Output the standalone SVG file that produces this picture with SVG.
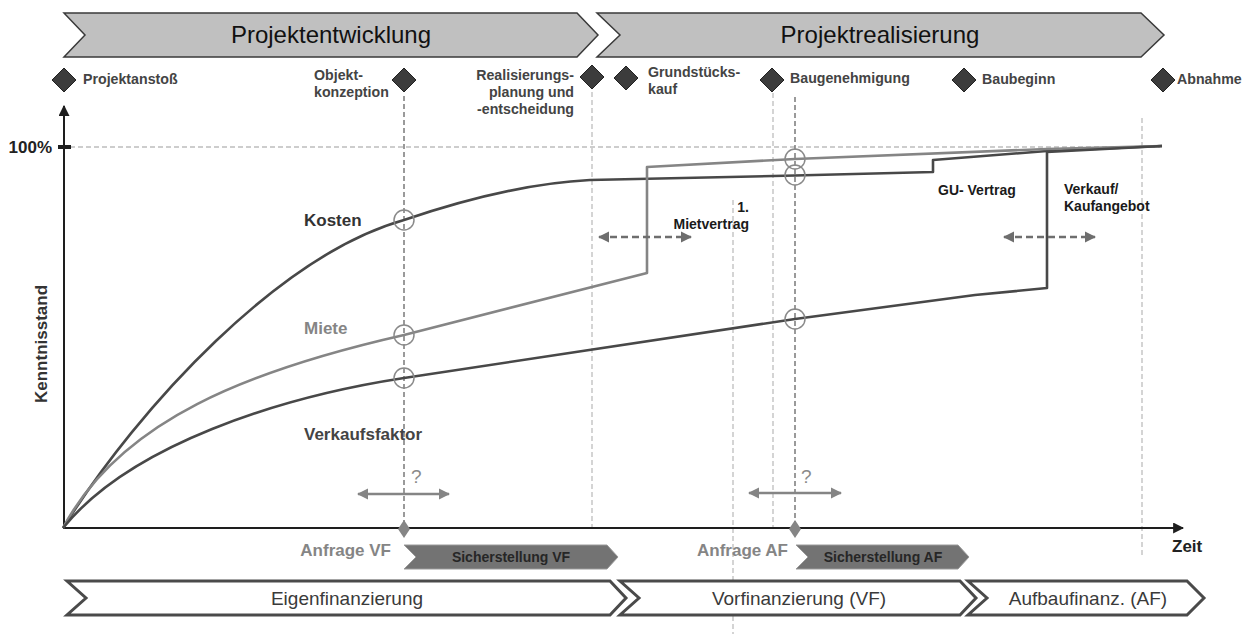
<svg xmlns="http://www.w3.org/2000/svg" width="1252" height="634" viewBox="0 0 1252 634">
<defs>
<marker id="ahd" viewBox="0 0 10 10" refX="9" refY="5" markerWidth="4.4" markerHeight="4.4" orient="auto-start-reverse"><path d="M0,0 L10,5 L0,10 z" fill="#6e6e6e"/></marker>
<marker id="ahg" viewBox="0 0 10 10" refX="9" refY="5" markerWidth="4.4" markerHeight="4.4" orient="auto-start-reverse"><path d="M0,0 L10,5 L0,10 z" fill="#858585"/></marker>
<marker id="aha" viewBox="0 0 10 10" refX="9" refY="5" markerWidth="5.5" markerHeight="5.5" orient="auto"><path d="M0,0 L10,5 L0,10 z" fill="#1e1e1e"/></marker>
</defs>
<style>
text{font-family:"Liberation Sans",Arial,sans-serif}
.phase{fill:#c0c0c0;stroke:#3a3a3a;stroke-width:1.5}
.phaset{font-size:24px;fill:#111;text-anchor:middle}
.dia{fill:#3c3c3c;stroke:#222;stroke-width:1}
.ms{font-size:14.2px;font-weight:bold;fill:#444}
.vl{stroke:#bdbdbd;stroke-width:1.3;stroke-dasharray:5,3;fill:none}
.vd{stroke:#7a7a7a;stroke-width:1.5;stroke-dasharray:5,3;fill:none}
.axis{stroke:#1e1e1e;stroke-width:2;fill:none}
.dk{stroke:#484848;stroke-width:2.6;fill:none;stroke-linejoin:round}
.lt{stroke:#858585;stroke-width:2.6;fill:none;stroke-linejoin:round}
.circ{fill:none;stroke:#8a8a8a;stroke-width:1.5}
.lbl{font-size:17px;font-weight:bold}
.ann{font-size:14px;font-weight:bold;fill:#1a1a1a}
.darr{stroke:#6e6e6e;stroke-width:2.6;stroke-dasharray:7,4;fill:none}
.garr{stroke:#858585;stroke-width:2.6;fill:none}
.q{font-size:19px;fill:#8a8a8a}
.anf{font-size:17px;font-weight:bold;fill:#858585;text-anchor:end}
.sich{fill:#737373;stroke:#9a9a9a;stroke-width:1}
.sicht{font-size:14px;font-weight:bold;fill:#262626;text-anchor:middle}
.fin{fill:#fff;stroke:#4a4a4a;stroke-width:3;stroke-linejoin:miter}
.fint{font-size:19px;fill:#3a3a3a;text-anchor:middle}
</style>

<g id="phase-projektentwicklung">
<polygon class="phase" points="64,13 577,13 598,35 577,57 64,57 85,35"/>
<text class="phaset" x="331" y="43">Projektentwicklung</text>
</g>
<g id="phase-projektrealisierung">
<polygon class="phase" points="597,13 1141,13 1164,35 1141,57 597,57 620,35"/>
<text class="phaset" x="880" y="43">Projektrealisierung</text>
</g>

<g id="guides">
<line class="vl" x1="70" y1="147" x2="1160" y2="147"/>
<line class="vd" x1="404" y1="96" x2="404" y2="528"/>
<line class="vl" x1="592" y1="92" x2="592" y2="528"/>
<line class="vl" x1="733" y1="200" x2="733" y2="634"/>
<line class="vl" x1="773" y1="93" x2="773" y2="528"/>
<line class="vd" x1="795" y1="97" x2="795" y2="528"/>
<line class="vl" x1="1142" y1="118" x2="1142" y2="556"/>
</g>

<g id="ms-projektanstoss">
<polygon class="dia" points="64,68 76,80 64,92 52,80"/>
<text class="ms" x="83" y="84">Projektanstoß</text>
</g>
<g id="ms-objektkonzeption">
<polygon class="dia" points="404,68 416,80 404,92 392,80"/>
<text class="ms" x="314" y="80">Objekt-</text>
<text class="ms" x="314" y="97">konzeption</text>
</g>
<g id="ms-realisierung">
<polygon class="dia" points="592,65 604,77 592,89 580,77"/>
<text class="ms" text-anchor="end" x="574" y="80">Realisierungs-</text>
<text class="ms" text-anchor="end" x="574" y="97">planung und</text>
<text class="ms" text-anchor="end" x="574" y="114">-entscheidung</text>
</g>
<g id="ms-grundstueckskauf">
<polygon class="dia" points="626,66 638,78 626,90 614,78"/>
<text class="ms" x="648" y="77">Grundstücks-</text>
<text class="ms" x="648" y="94">kauf</text>
</g>
<g id="ms-baugenehmigung">
<polygon class="dia" points="772,68 784,80 772,92 760,80"/>
<text class="ms" x="790" y="83">Baugenehmigung</text>
</g>
<g id="ms-baubeginn">
<polygon class="dia" points="964,68 976,80 964,92 952,80"/>
<text class="ms" x="982" y="84">Baubeginn</text>
</g>
<g id="ms-abnahme">
<polygon class="dia" points="1163,68 1175,80 1163,92 1151,80"/>
<text class="ms" x="1177" y="84">Abnahme</text>
</g>

<g id="axes">
<line class="axis" x1="64" y1="528" x2="64" y2="106" marker-end="url(#aha)"/>
<line class="axis" x1="63" y1="528" x2="1183" y2="528" marker-end="url(#aha)"/>
<line x1="58" y1="147" x2="71" y2="147" stroke="#1e1e1e" stroke-width="4"/>
<text x="52" y="153" font-size="17" font-weight="bold" fill="#222" text-anchor="end">100%</text>
<text x="1172" y="552" font-size="17" font-weight="bold" fill="#222">Zeit</text>
<text transform="translate(47,344) rotate(-90)" font-size="17" font-weight="bold" fill="#333" text-anchor="middle">Kenntnisstand</text>
</g>

<g id="curves">
<path id="curve-kosten" class="dk" d="M63,528 C140,405 280,255 404,220 C460,201 530,183 590,180 L795,175.5 L933,172 L933,160 L1047,151 L1162,146"/>
<path id="curve-miete" class="lt" d="M63,528 C120,420 250,370 404,335 L647,273 L647,167 L795,159 L1047,149 L1162,146"/>
<path id="curve-verkaufsfaktor" class="dk" d="M63,528 C130,445 280,397 404,378 L795,319 L975,295 L1047,288 L1047,152 L1162,146"/>
<circle class="circ" cx="404" cy="220" r="10"/>
<circle class="circ" cx="404" cy="335" r="10"/>
<circle class="circ" cx="404" cy="378" r="10"/>
<circle class="circ" cx="795" cy="159" r="10"/>
<circle class="circ" cx="795" cy="175" r="10"/>
<circle class="circ" cx="795" cy="319" r="10"/>
<text class="lbl" x="304" y="226" fill="#333">Kosten</text>
<text class="lbl" x="304" y="334" fill="#858585">Miete</text>
<text class="lbl" x="304" y="440" fill="#444">Verkaufsfaktor</text>
</g>

<g id="connectors">
<line class="darr" x1="599" y1="237" x2="691" y2="237" marker-start="url(#ahd)" marker-end="url(#ahd)"/>
<line class="darr" x1="1004" y1="237" x2="1095" y2="237" marker-start="url(#ahd)" marker-end="url(#ahd)"/>
<line class="garr" x1="358" y1="494" x2="449" y2="494" marker-start="url(#ahg)" marker-end="url(#ahg)"/>
<line class="garr" x1="749" y1="493" x2="841" y2="493" marker-start="url(#ahg)" marker-end="url(#ahg)"/>
</g>

<g id="note-mietvertrag">
<text class="ann" x="749" y="212" text-anchor="end">1.</text>
<text class="ann" x="749" y="229" text-anchor="end">Mietvertrag</text>
</g>
<g id="note-gu">
<text class="ann" x="938" y="195">GU- Vertrag</text>
</g>
<g id="note-verkauf">
<text class="ann" x="1064" y="194">Verkauf/</text>
<text class="ann" x="1064" y="211">Kaufangebot</text>
</g>
<g id="q-vf"><text class="q" x="411" y="483">?</text></g>
<g id="q-af"><text class="q" x="801" y="483">?</text></g>

<g id="anfrage-vf">
<polygon points="404,520 410,529 404,538 398,529" fill="#858585"/>
<text class="anf" x="391" y="556">Anfrage VF</text>
</g>
<g id="anfrage-af">
<polygon points="795,520 801,529 795,538 789,529" fill="#858585"/>
<text class="anf" x="788" y="556">Anfrage AF</text>
</g>
<g id="sicherstellung-vf">
<polygon class="sich" points="404,545 607,545 618,557 607,569 404,569 416,557"/>
<text class="sicht" x="511" y="562">Sicherstellung VF</text>
</g>
<g id="sicherstellung-af">
<polygon class="sich" points="796,545 958,545 969,557 958,569 796,569 808,557"/>
<text class="sicht" x="883" y="562">Sicherstellung AF</text>
</g>

<g id="fin-eigen">
<polygon class="fin" points="67,581 610,581 626,598 610,615 67,615 86,598"/>
<text class="fint" x="347" y="605">Eigenfinanzierung</text>
</g>
<g id="fin-vor">
<polygon class="fin" points="620,581 960,581 976,598 960,615 620,615 639,598"/>
<text class="fint" x="799" y="605">Vorfinanzierung (VF)</text>
</g>
<g id="fin-aufbau">
<polygon class="fin" points="968,581 1187,581 1204,598 1187,615 968,615 987,598"/>
<text class="fint" x="1088" y="605">Aufbaufinanz. (AF)</text>
</g>
</svg>
